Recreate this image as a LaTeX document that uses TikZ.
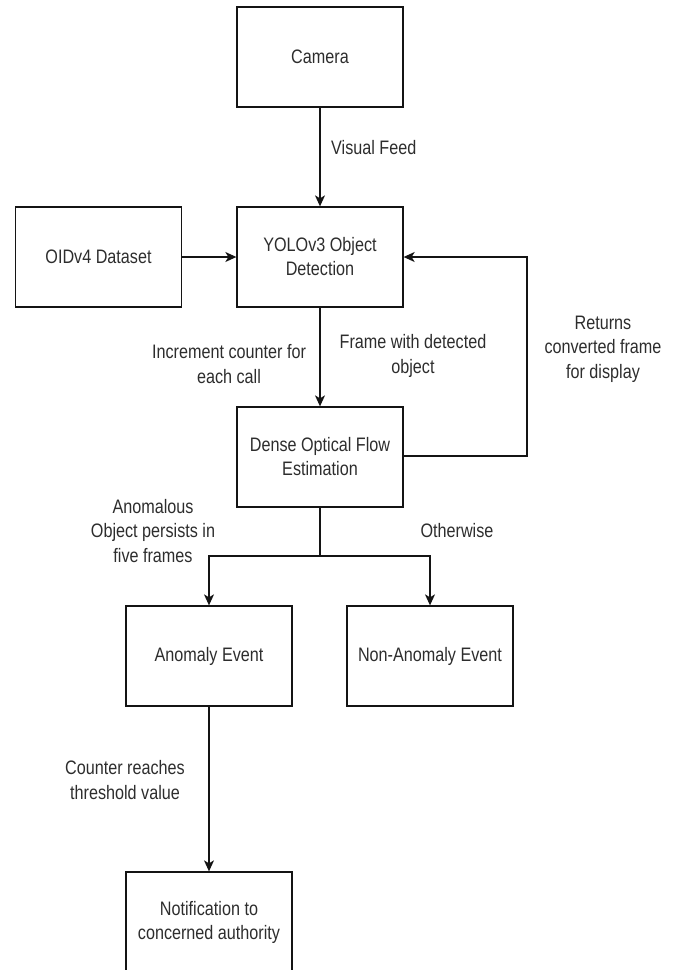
\documentclass[tikz,border=0pt]{standalone}
\usepackage{fontspec}
\setmainfont{Liberation Sans}[FakeStretch=0.83]
\usetikzlibrary{arrows.meta}
\definecolor{txt}{RGB}{45,45,45}
\definecolor{ln}{RGB}{20,20,20}
\tikzset{
  box/.style={draw=ln, line width=1.3pt, minimum width=166pt, minimum height=100pt,
    inner sep=0pt, align=center, text=txt, font=\fontsize{19.5}{24}\selectfont},
  lbl/.style={align=center, inner sep=0pt, text=txt, font=\fontsize{19.5}{24.5}\selectfont},
  conn/.style={draw=ln, line width=1.3pt},
  arr/.style={conn, -{Stealth[length=11pt,width=10pt,inset=3pt]}}
}
\begin{document}
\begin{tikzpicture}[x=1pt,y=-1pt]
\path[use as bounding box] (0,0) rectangle (678,970);
\clip (0,0) rectangle (678,970);
\node[box] (cam) at (320,57) {Camera};
\node[box] (yolo) at (320,257) {YOLOv3 Object\\Detection};
\node[box] (oid) at (98.5,257) {OIDv4 Dataset};
\node[box] (dense) at (320,457) {Dense Optical Flow\\Estimation};
\node[box] (anom) at (209,656) {Anomaly Event};
\node[box] (non) at (430,656) {Non-Anomaly Event};
\node[box] (notif) at (209,922) {Notification to\\concerned authority};

\coordinate (fbr) at (527,456);
\coordinate (fbt) at (527,257);
\coordinate (split) at (320,556);
\coordinate (sl) at (209,556);
\coordinate (sr) at (430,556);

\draw[arr] (cam.south) -- (yolo.north);
\draw[arr] (oid.east) -- (yolo.west);
\draw[arr] (yolo.south) -- (dense.north);
\draw[arr] (dense.east |- fbr) -- (fbr) -- (fbt) -- (yolo.east);
\draw[conn] (dense.south) -- (split);
\draw[arr] (split) -- (sl) -- (anom.north);
\draw[arr] (split) -- (sr) -- (non.north);
\draw[arr] (anom.south) -- (notif.north);

\node[lbl, anchor=west] (lvf) at (331,148) {Visual Feed};
\node[lbl] (linc) at (229,364) {Increment counter for\\each call};
\node[lbl] (lfr) at (413,356) {Frame with detected\\object};
\node[lbl] (lret) at (603,349) {Returns\\converted frame\\for display};
\node[lbl] (lano) at (153,531) {Anomalous\\Object persists in\\five frames};
\node[lbl] (loth) at (457,531) {Otherwise};
\node[lbl] (lcnt) at (125,780) {Counter reaches\\threshold value};
\end{tikzpicture}
\end{document}
